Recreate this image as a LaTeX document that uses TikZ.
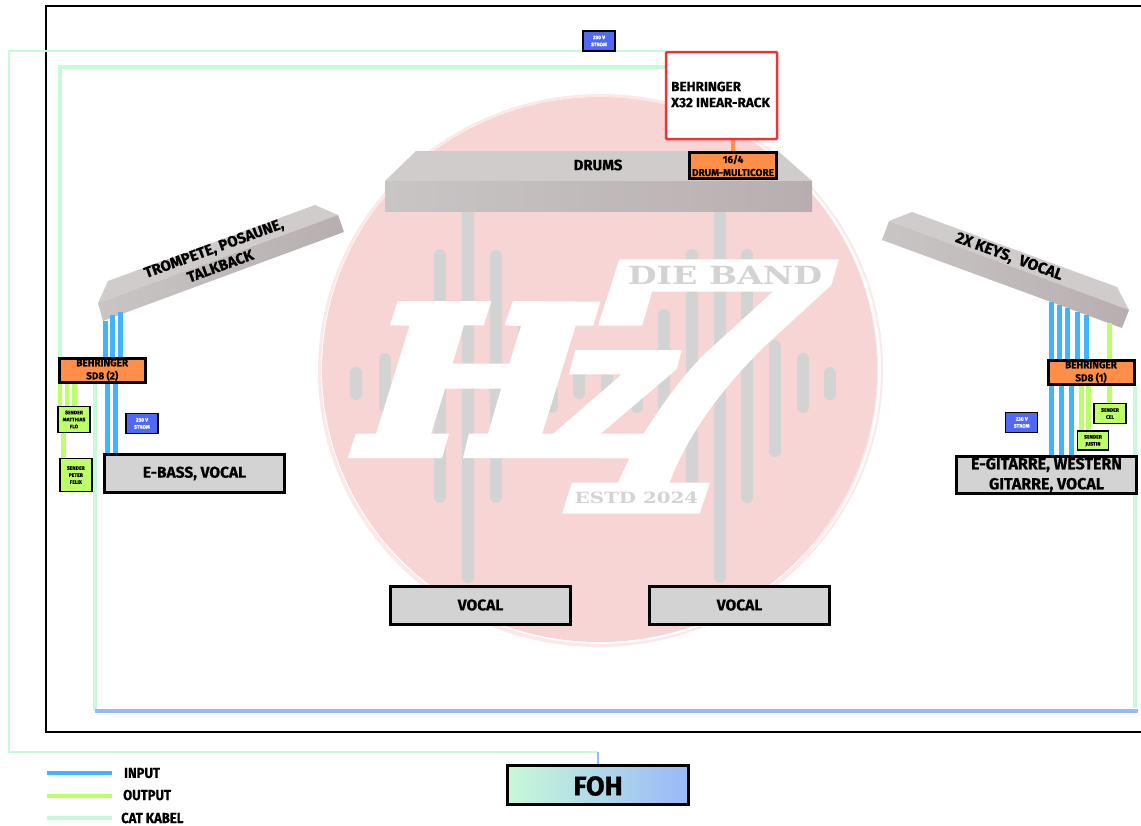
\documentclass[tikz,border=0pt]{standalone}
\usepackage{fontspec}
\setmainfont{Fira Sans}[BoldFeatures={FakeBold=0.6}]
\newfontfamily\logofont{DejaVu Serif}
\usetikzlibrary{backgrounds,shapes}
\pgfdeclarelayer{logolayer}
\pgfdeclarelayer{edgelayer}
\pgfdeclarelayer{nodelayer}
\pgfsetlayers{logolayer,edgelayer,nodelayer,main}
\definecolor{logored}{HTML}{F8D5D5}
\definecolor{logoring}{HTML}{FBE8E8}
\definecolor{bargray}{HTML}{D3D3D3}
\definecolor{stagetop}{HTML}{D0CCCC}
\definecolor{stagelight}{HTML}{C9C5C5}
\definecolor{stagedark}{HTML}{B8AEB0}
\definecolor{inputblue}{HTML}{40B4FF}
\definecolor{outputgreen}{HTML}{BCFF66}
\definecolor{catgreen}{HTML}{C8F9D8}
\definecolor{focblue}{HTML}{98B9F9}
\definecolor{sdorange}{HTML}{FF8F48}
\definecolor{stromblue}{HTML}{4F68F5}
\definecolor{rackred}{HTML}{EE3338}
\newcommand{\setfs}[2]{\fontsize{#1}{#2}\selectfont\bfseries}
\tikzset{font=\setfs{12}{15}}
\tikzstyle{none}=[inner sep=0pt]
\tikzstyle{stagebox}=[rectangle,draw=black,fill=bargray,line width=3pt,align=center,inner sep=0pt,font=\setfs{15.5}{20}]
\tikzstyle{sdbox}=[rectangle,draw=black,fill=sdorange,line width=3pt,align=center,inner sep=0pt,font=\setfs{10}{13}]
\tikzstyle{sendbox}=[rectangle,draw=black,fill=outputgreen,line width=1.5pt,align=center,inner sep=0pt,font=\setfs{5}{7}]
\tikzstyle{stromnode}=[rectangle,draw=black,fill=stromblue,text=white,line width=1.5pt,align=center,inner sep=0pt,font=\setfs{5}{7}]
\tikzstyle{inputline}=[draw=inputblue,line width=5pt]
\tikzstyle{outputline}=[draw=outputgreen,line width=4.5pt]
\tikzstyle{catline}=[draw=catgreen,line width=4pt]
\tikzstyle{catthin}=[draw=catgreen,line width=2.5pt]
\tikzstyle{bar}=[draw=bargray,line width=12pt,line cap=round]
\tikzstyle{legendtext}=[anchor=west,inner sep=0pt,xscale=0.9,font=\setfs{14.5}{16}]

\begin{document}
\begin{tikzpicture}[x=1pt,y=-1pt]
	\useasboundingbox (0,0) rectangle (1141,825);
	\begin{pgfonlayer}{logolayer}
		\fill [white] (0,0) rectangle (1141,825);
		\draw [logoring,line width=2pt] (601,370) ellipse (281 and 275);
		\draw [logoring,line width=2pt] (598,371) ellipse (279 and 275);
		\fill [logored] (599.5,369.5) ellipse (277.5 and 272.5);
		% bars behind the logo
		\foreach \x/\a/\b in {356/373/394,385/359/407,440/255/497,496/256/497,524/316/424,552/391/407,579/376/393,607/376/394,637/386/407,664/315/434,692/255/494,747/255/497,775/346/451,803/359/407,830/373/394}
			\draw [bar] (\x,\a) -- (\x,\b);
		\foreach \x in {468,720}
			\draw [bar,line cap=butt] (\x,205) -- (\x,577) [line cap=round] (\x,577) -- (\x,577.1);
		\fill [white] (397.5,301) -- (491.4,301) -- (483.6,325.3) -- (463.9,325.3) -- (452.5,363.7) -- (509.3,363.7) -- (521,326) -- (504.6,325.3) -- (512.9,301) -- (600.4,301.7) -- (593.2,325.7) -- (575.7,325.7) -- (542.1,433.7) -- (553.2,433.7) -- (621.8,374.3) -- (568.9,374.3) -- (575.4,350) -- (681.8,350) -- (676.8,369) -- (600.7,433.7) -- (643.6,433.7) .. controls (670,392) and (690,368) .. (705.7,353) -- (772.9,291.7) -- (652.1,291.7) -- (642.1,325.7) -- (597.9,325.7) -- (619.3,259.3) -- (838.9,259.3) -- (831.4,285) -- (766,345) .. controls (725,385) and (690,430) .. (669.3,482.7) -- (710,482.7) -- (699.6,513.7) -- (562.1,513.7) -- (571.8,482.7) -- (617.9,482.7) -- (629.3,458.3) -- (462.9,458) -- (468.9,433.7) -- (487.9,433.7) -- (501.1,388.7) -- (445,388.7) -- (431.1,433.7) -- (448.9,433.7) -- (442.1,458) -- (347.9,458) -- (355.7,433.7) -- (376.1,433.7) -- (409.6,325.7) -- (390,325.3) -- cycle;
		\node [none,text=bargray,xscale=1.33] (dieband) at (725,275) {\logofont\fontsize{25}{25}\selectfont\bfseries DIE BAND};
		\node [none,text=bargray,xscale=1.28] (estd) at (636.5,498) {\logofont\fontsize{15.5}{15.5}\selectfont\bfseries ESTD 2024};
		% stage risers
		\fill [stagetop] (416,151) -- (778,151) -- (812,181) -- (385,181) -- cycle;
		\shade [left color=stagelight,right color=stagedark] (385,181) rectangle (812,211);
		\fill [stagetop] (108,281) -- (315,205) -- (338,215) -- (98,303) -- cycle;
		\shade [left color=stagelight,right color=stagedark] (98,303) -- (338,215) -- (344,232) -- (103,321) -- cycle;
		\fill [stagetop] (889,221) -- (912,212) -- (1117,287) -- (1129,310) -- cycle;
		\shade [left color=stagelight,right color=stagedark] (882,240) -- (889,221) -- (1129,310) -- (1122,328) -- cycle;
	\end{pgfonlayer}
	\begin{pgfonlayer}{nodelayer}
		\node [style=sdbox,minimum width=86pt,minimum height=24pt] (sdleft) at (102.2,370) {BEHRINGER\\SD8 (2)};
		\node [style=sdbox,minimum width=86pt,minimum height=24pt] (sdright) at (1091,372) {BEHRINGER\\SD8 (1)};
		\node [style=sdbox,minimum width=87pt,minimum height=26pt] (multicore) at (733,165.5) {16/4\\DRUM-MULTICORE};
		\node [rectangle,draw=rackred,fill=white,line width=2.5pt,rounded corners=1pt,minimum width=111pt,minimum height=87pt] (rack) at (721.5,95.5) {};
		\node [anchor=west,align=left,inner sep=0pt,font=\setfs{13.5}{16}] (racktext) at (671,94.5) {BEHRINGER\\X32 INEAR-RACK};
		\node [style=stagebox,minimum width=180pt,minimum height=38pt] (ebass) at (194.5,473.5) {E-BASS, VOCAL};
		\node [style=stagebox,minimum width=180.5pt,minimum height=37pt,font=\setfs{16}{20}] (egitarre) at (1046.5,475) {E-GITARRE, WESTERN\\GITARRE, VOCAL};
		\node [style=stagebox,minimum width=180pt,minimum height=38pt] (vocalleft) at (480.5,605) {VOCAL};
		\node [style=stagebox,minimum width=180pt,minimum height=38pt] (vocalright) at (739.5,605) {VOCAL};
		\node [style=sendbox,minimum width=32pt,minimum height=26pt] (matthias) at (74,419.5) {SENDER\\MATTHIAS\\FLO};
		\node [style=sendbox,minimum width=32pt,minimum height=33pt] (peter) at (75.8,475) {SENDER\\PETER\\FELIX};
		\node [style=sendbox,minimum width=32pt,minimum height=20pt] (cel) at (1110,413.5) {SENDER\\CEL};
		\node [style=sendbox,minimum width=31pt,minimum height=19pt] (justin) at (1093,440.7) {SENDER\\JUSTIN};
		\node [style=stromnode,minimum width=32pt,minimum height=20pt] (stromtop) at (599,41) {230 V\\STROM};
		\node [style=stromnode,minimum width=32pt,minimum height=20pt] (stromleft) at (142,423.5) {230 V\\STROM};
		\node [style=stromnode,minimum width=32pt,minimum height=20pt] (stromright) at (1021.7,422.5) {230 V\\STROM};
		\node [rectangle,draw=black,line width=3pt,left color=catgreen,right color=focblue,minimum width=181pt,minimum height=39pt,inner sep=0pt] (foh) at (598,785) {};
		\node [none,font=\setfs{27}{27}] (fohtext) at (598,786) {FOH};
		\node [none,font=\setfs{15}{16}] (drums) at (598,165) {DRUMS};
		\node [none,rotate=20,align=center,font=\setfs{15}{19}] (trompete) at (217,257) {TROMPETE, POSAUNE,\\TALKBACK};
		\node [none,rotate=-20,font=\setfs{15.5}{19}] (keys) at (1009,257) {2X KEYS,\ \ VOCAL};
		% cable ends
		\node [style=none] (cattop) at (9,51) {};
		\node [style=none] (catbottom) at (9,752) {};
		\node [style=none] (catfoh) at (598,752) {};
		\node [style=none] (catrack) at (665,67) {};
		\node [style=none] (catcorner) at (60,67) {};
		\node [style=none] (catrackthin) at (665,51) {};
		\node [style=none] (catcornerleft) at (95,711) {};
		\node [style=none] (catcornerright) at (1138,711) {};
		\node [style=none] (catright) at (1135,708) {};
		\node [style=none] (legendinput) at (47,773) {};
		\node [style=none] (legendoutput) at (47,796) {};
		\node [style=none] (legendcat) at (47,818) {};
		\node [style=legendtext] (inputtext) at (124,773) {INPUT};
		\node [style=legendtext] (outputtext) at (123,795) {OUTPUT};
		\node [style=legendtext] (cattext) at (121,818) {CAT KABEL};
	\end{pgfonlayer}
	\begin{pgfonlayer}{edgelayer}
		\draw [black,line width=2pt] (1141,6) -- (46,6) -- (46,732) -- (1141,732);
		\draw [style=catthin] (catrackthin.center) -- (cattop.center) -- (catbottom.center) -- (catfoh.center);
		\draw [draw=focblue,line width=2.5pt] (catfoh.center) -- (foh.north -| catfoh.center);
		\draw [style=catline] (catrack.center) -- (catcorner.center) -- (catcorner.center |- sdleft.north);
		\draw [style=catline] (catcornerleft.center |- sdleft.south) -- (catcornerleft.center);
		\draw [draw=focblue,line width=4pt] (catcornerleft.center) -- (catcornerright.center);
		\draw [style=catline] (catright.center |- sdright.south) -- (catright.center);
		\draw [draw=sdorange,line width=4.5pt] (rack.south -| multicore.north) -- (multicore.north);
		% left riser
		\foreach \n/\x/\y in {1/105/321,2/112.7/315,3/120.7/312} {
			\node [style=none] (tleft\n) at (\x,\y) {};
			\draw [style=inputline] (tleft\n.center) -- (tleft\n.center |- sdleft.north);
		}
		\foreach \n/\x in {1/107,2/115} {
			\node [style=none] (bleft\n) at (\x,384) {};
			\draw [style=inputline] (bleft\n.center) -- (bleft\n.center |- ebass.north);
		}
		\foreach \n/\x in {1/60,2/67,3/74.3} {
			\node [style=none] (oleft\n) at (\x,384) {};
			\draw [style=outputline] (oleft\n.center) -- (oleft\n.center |- matthias.north);
		}
		\node [style=none] (opeter) at (63.3,433) {};
		\draw [style=outputline] (opeter.center) -- (opeter.center |- peter.north);
		% right riser
		\foreach \n/\x/\y in {1/1051/302,2/1059/305,3/1067.7/308,4/1077/312,5/1086.7/315} {
			\node [style=none] (tright\n) at (\x,\y) {};
			\draw [style=inputline] (tright\n.center) -- (tright\n.center |- sdright.north);
		}
		\foreach \n/\x in {1/1051,2/1061,3/1071.7} {
			\node [style=none] (bright\n) at (\x,386) {};
			\draw [style=inputline] (bright\n.center) -- (bright\n.center |- egitarre.north);
		}
		\foreach \n/\x in {1/1081.7,2/1088.7} {
			\node [style=none] (oright\n) at (\x,386) {};
			\draw [style=outputline] (oright\n.center) -- (oright\n.center |- justin.north);
		}
		\node [style=none] (okeys) at (1109.7,323) {};
		\draw [style=outputline] (okeys.center) -- (okeys.center |- sdright.north);
		\node [style=none] (ocel) at (1109.7,386) {};
		\draw [style=outputline] (ocel.center) -- (ocel.center |- cel.north);
		% legend
		\draw [style=inputline,line width=4pt] (legendinput.center) -- +(65,0);
		\draw [style=outputline,line width=4pt] (legendoutput.center) -- +(65,0);
		\draw [style=catline] (legendcat.center) -- +(65,0);
	\end{pgfonlayer}
\end{tikzpicture}
\end{document}
